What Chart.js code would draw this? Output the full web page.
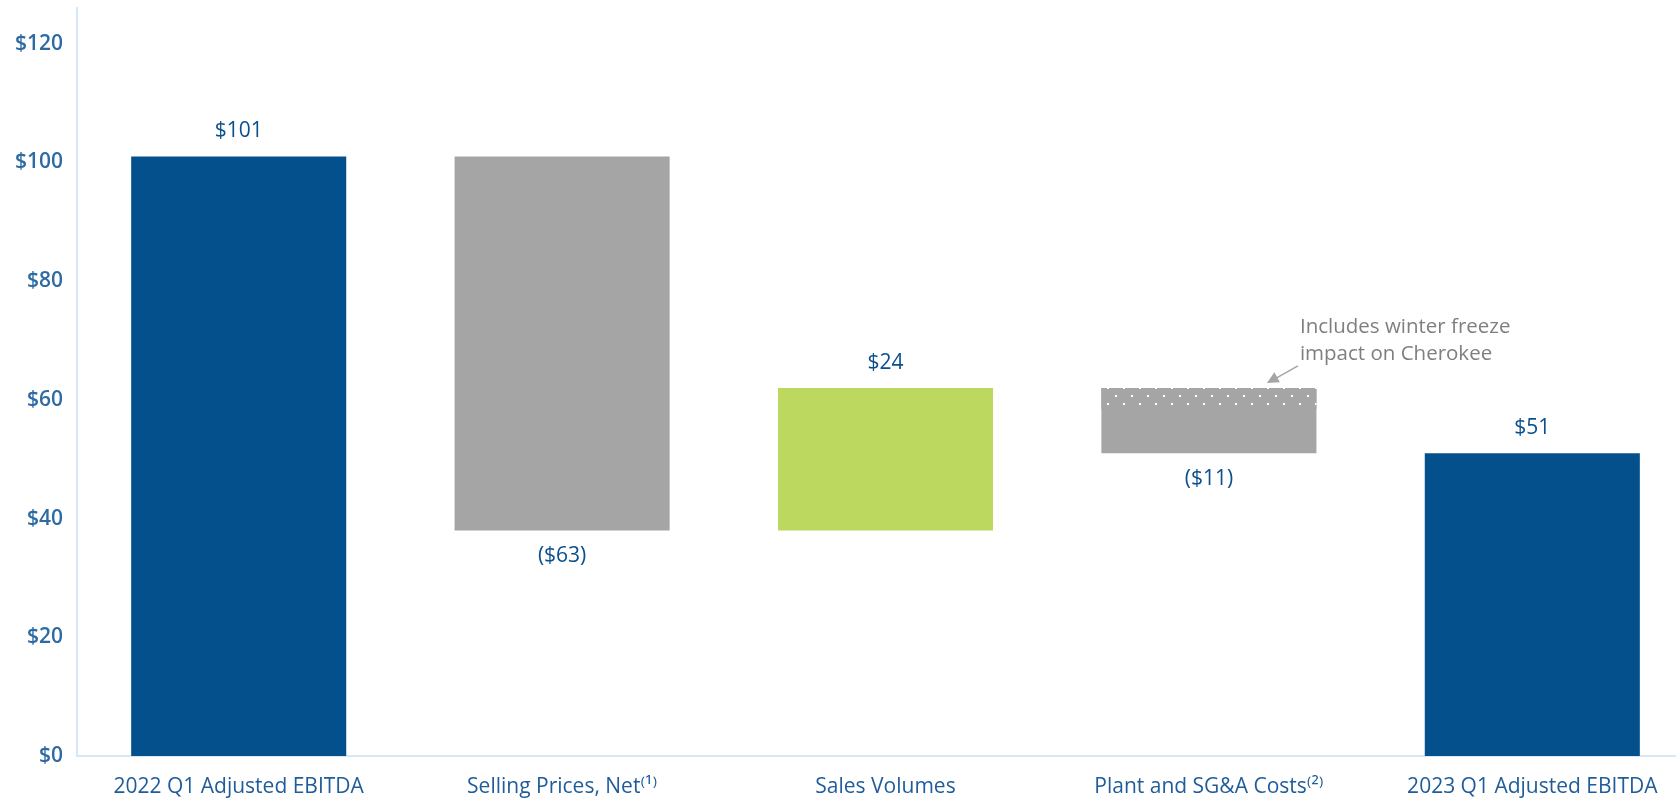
<!DOCTYPE html>
<html>
<head>
<meta charset="utf-8">
<script src="https://cdn.jsdelivr.net/npm/chart.js@4"></script>
<style>
  html, body { margin: 0; padding: 0; background: #fff; overflow: hidden; }
  #wrap { width: 1694px; height: 801px; position: relative; }
</style>
</head>
<body>
<div id="wrap"><canvas id="bridge"></canvas></div>
<script>
// EBITDA bridge, $ millions
const categories = ['2022 Q1 Adjusted EBITDA', 'Selling Prices, Net\u207D\u00B9\u207E', 'Sales Volumes', 'Plant and SG&A Costs\u207D\u00B2\u207E', '2023 Q1 Adjusted EBITDA'];
const changes = [101, -63, 24, -11, 51];
const isTotal = [true, false, false, false, true];
const valueLabels = ['$101', '($63)', '$24', '($11)', '$51'];
const freezeRange = [null, null, null, [58.4, 62], null];
const yTicks = [0, 20, 40, 60, 80, 100, 120];

const barColors = ['#03508C', '#A5A5A5', '#BDD85F', '#A5A5A5', '#03508C'];

// floating ranges for the waterfall
let running = 0;
const ranges = changes.map((v, i) => {
    if (isTotal[i]) { running = v; return [0, v]; }
    const start = running;
    running += v;
    return [Math.min(start, running), Math.max(start, running)];
});

// white dot pattern for the winter freeze part
function dotPattern() {
    const c = document.createElement('canvas');
    c.width = 16; c.height = 16;
    const g = c.getContext('2d');
    g.fillStyle = '#A5A5A5';
    g.fillRect(0, 0, 16, 16);
    g.fillStyle = '#ffffff';
    g.fillRect(3, 3, 2, 2);
    g.fillRect(11, 11, 2, 2);
    return g.createPattern(c, 'repeat');
}

const valueLabelPlugin = {
    id: 'valueLabels',
    afterDatasetsDraw(chart) {
        const ctx = chart.ctx;
        const meta = chart.getDatasetMeta(0);
        ctx.save();
        ctx.font = '21px "Open Sans"';
        ctx.fillStyle = '#0B4F8C';
        ctx.textAlign = 'center';
        ctx.textBaseline = 'middle';
        meta.data.forEach((bar, i) => {
            const top = Math.min(bar.y, bar.base);
            const bottom = Math.max(bar.y, bar.base);
            const y = changes[i] >= 0 ? top - 25 : bottom + 26;
            ctx.fillText(valueLabels[i], bar.x, y);
        });

        // note with arrow on the plant costs bar
        const b = meta.data[3];
        const top = Math.min(b.y, b.base);
        ctx.font = '20.5px "Open Sans"';
        ctx.fillStyle = '#7F7F7F';
        ctx.textAlign = 'left';
        ctx.fillText('Includes winter freeze', b.x + 91, top - 61);
        ctx.fillText('impact on Cherokee', b.x + 91, top - 34);
        const x0 = b.x + 89, y0 = top - 22;
        const x1 = b.x + 58, y1 = top - 5;
        ctx.strokeStyle = '#A5A5A5';
        ctx.fillStyle = '#A5A5A5';
        ctx.lineWidth = 1.5;
        ctx.beginPath();
        ctx.moveTo(x0, y0);
        ctx.lineTo(x1 + 8, y1 - 4);
        ctx.stroke();
        const ang = Math.atan2(y1 - y0, x1 - x0);
        ctx.beginPath();
        ctx.moveTo(x1, y1);
        ctx.lineTo(x1 - 13 * Math.cos(ang - 0.45), y1 - 13 * Math.sin(ang - 0.45));
        ctx.lineTo(x1 - 13 * Math.cos(ang + 0.45), y1 - 13 * Math.sin(ang + 0.45));
        ctx.closePath();
        ctx.fill();
        ctx.restore();
    }
};

new Chart(document.getElementById('bridge'), {
    type: 'bar',
    data: {
        labels: categories,
        datasets: [{
            data: ranges,
            backgroundColor: barColors,
            borderWidth: 0,
            barPercentage: 0.665,
            categoryPercentage: 1,
            grouped: false,
            order: 2
        }, {
            data: freezeRange,
            backgroundColor: dotPattern(),
            borderWidth: 0,
            barPercentage: 0.665,
            categoryPercentage: 1,
            grouped: false,
            order: 1
        }]
    },
    options: {
        responsive: true, maintainAspectRatio: false,
        animation: false,
        layout: { padding: { top: 8, right: 0, left: 0, bottom: 0 } },
        plugins: { legend: { display: false }, tooltip: { enabled: false } },
        scales: {
            x: {
                afterFit: s => { s.height = 45; },
                grid: { display: false, drawTicks: false },
                border: { color: '#D6E8F7', width: 2 },
                ticks: { color: '#1F5C99', font: { family: '"Open Sans"', size: 21 }, padding: 18, maxRotation: 0, autoSkip: false }
            },
            y: {
                min: 0, max: 126,
                afterBuildTicks: s => { s.ticks = yTicks.map(v => ({ value: v })); },
                afterFit: s => { s.width = 77; s.paddingTop = 0; s.paddingBottom = 0; },
                grid: { display: false, drawTicks: false },
                border: { color: '#D6E8F7', width: 2 },
                ticks: { color: '#2E6BA3', font: { family: '"Open Sans"', size: 21, weight: '600' }, padding: 14, callback: v => '$' + v }
            }
        }
    },
    plugins: [valueLabelPlugin]
});
</script>
</body>
</html>
